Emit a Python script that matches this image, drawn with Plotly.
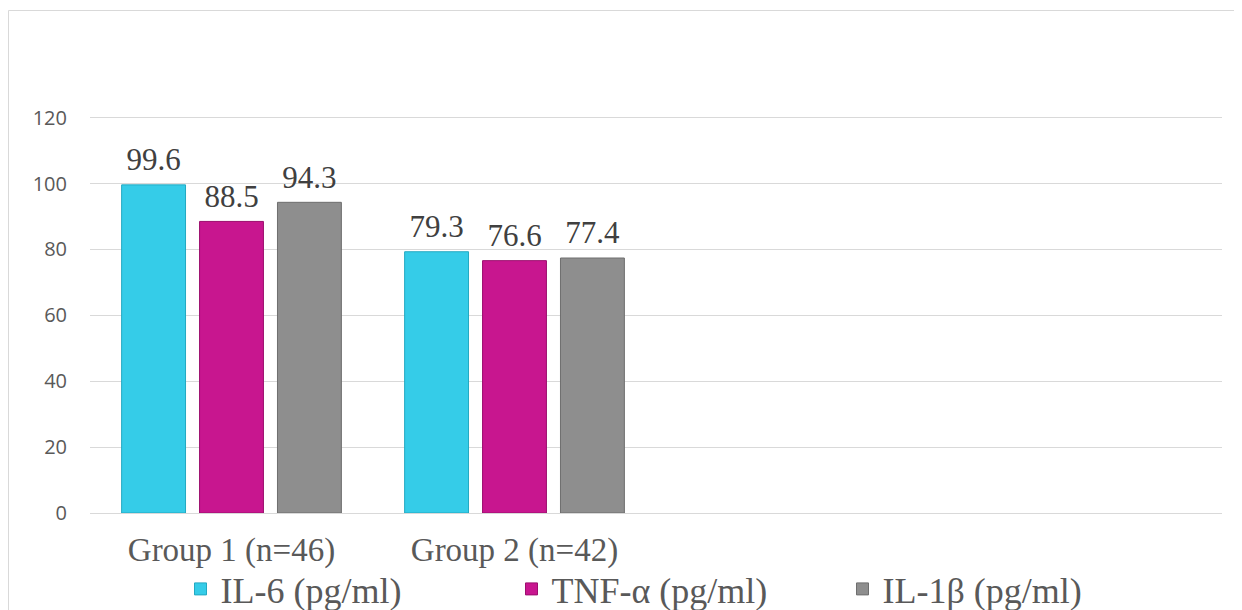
import plotly.graph_objects as go

categories = ["Group 1 (n=46)", "Group 2 (n=42)", " ", "  "]
groups = ["Group 1 (n=46)", "Group 2 (n=42)"]
il6 = [99.6, 79.3]
tnf = [88.5, 76.6]
il1b = [94.3, 77.4]
series_names = ["IL-6 (pg/ml)", "TNF-α (pg/ml)", "IL-1β (pg/ml)"]
colors = ["#35CCE8", "#C8168F", "#8E8E8E"]
edge = ["#23A9C2", "#9C0E6E", "#6E6E6E"]
y_ticks = [0, 20, 40, 60, 80, 100, 120]

serif = "Liberation Serif, Times New Roman, serif"
sans = "Open Sans, Liberation Sans, sans-serif"

fig = go.Figure()
for name, vals, c, e in zip(series_names, [il6, tnf, il1b], colors, edge):
    fig.add_trace(go.Bar(
        x=groups, y=vals, name=name,
        marker=dict(color=c, line=dict(color=e, width=1)),
        text=[f"{v:.1f}" for v in vals],
        texttemplate="<sub>\u00a0</sub>%{text}<sub>\u00a0</sub>",
        textposition="outside",
        textfont=dict(family=serif, size=31, color="#404040"),
        constraintext="none", cliponaxis=False,
    ))

# page body has an 8px margin: figure pixel = screen pixel - 8
OFF = 8
W, H = 1242 - OFF, 610 - OFF
L, R, T, B = 90 - OFF, 20, 116 - OFF, 97
pw, ph = W - L - R, H - T - B

def px_x(x):
    return (x - OFF - L) / pw

def px_y(y):
    return (H - B - (y - OFF)) / ph

fig.update_layout(
    width=W, height=H,
    margin=dict(l=L, r=R, t=T, b=B, autoexpand=False),
    paper_bgcolor="white", plot_bgcolor="white",
    barmode="group", bargap=0.174, bargroupgap=0.18,
    showlegend=True,
    legend=dict(orientation="h",
                xref="container", x=(677 - OFF) / W, xanchor="center",
                yref="container", y=(610 - 589) / H, yanchor="middle",
                bgcolor="rgba(0,0,0,0)",
                font=dict(family=serif, size=36, color="#595959"),
                entrywidth=286, itemwidth=30, traceorder="normal"),
    xaxis=dict(type="category", categoryorder="array", categoryarray=categories,
               range=[-0.5, 3.5], showgrid=False, showline=False, zeroline=False,
               automargin=False,
               tickfont=dict(family=serif, size=33, color="#595959"), ticks="",
               ticklabelstandoff=14),
    yaxis=dict(range=[0, 120.5], tickvals=y_ticks, showgrid=True, gridcolor="#D9D9D9",
               gridwidth=1, zeroline=True, zerolinecolor="#D9D9D9", zerolinewidth=1,
               showline=False, automargin=False,
               tickfont=dict(family=sans, size=20, color="#595959"),
               ticklabelstandoff=22),
    shapes=[
        dict(type="line", xref="paper", yref="paper", x0=px_x(8.5), x1=px_x(1242), y0=px_y(10.5), y1=px_y(10.5),
             line=dict(color="#D9D9D9", width=1)),
        dict(type="line", xref="paper", yref="paper", x0=px_x(8.5), x1=px_x(8.5), y0=px_y(10.5), y1=px_y(610),
             line=dict(color="#D9D9D9", width=1)),
    ],
)

fig.write_html("out.html")
